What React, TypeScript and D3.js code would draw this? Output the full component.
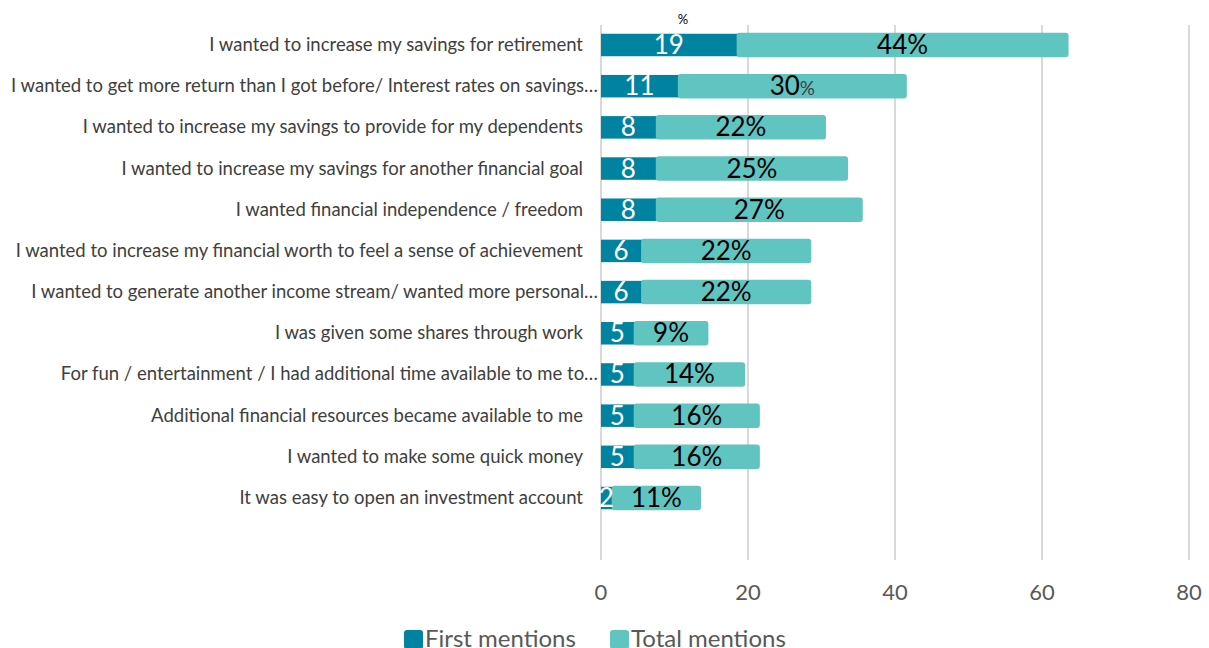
import React from "react";
import * as d3 from "d3";

const categories = [
  "I wanted to increase my savings for retirement",
  "I wanted to get more return than I got before/ Interest rates on savings…",
  "I wanted to increase my savings to provide for my dependents",
  "I wanted to increase my savings for another financial goal",
  "I wanted financial independence / freedom",
  "I wanted to increase my financial worth to feel a sense of achievement",
  "I wanted to generate another income stream/ wanted more personal…",
  "I was given some shares through work",
  "For fun / entertainment / I had additional time available to me to…",
  "Additional financial resources became available to me",
  "I wanted to make some quick money",
  "It was easy to open an investment account",
];
const firstMentions = [19, 11, 8, 8, 8, 6, 6, 5, 5, 5, 5, 2];
const totalMentions = [44, 30, 22, 25, 27, 22, 22, 9, 14, 16, 16, 11];
const xTicks = [0, 20, 40, 60, 80];
const seriesNames = ["First mentions", "Total mentions"];

const W = 1209;
const H = 648;
const DARK = "#0083a0";
const LIGHT = "#60c5c1";
const FONT = "Lato, 'Open Sans', sans-serif";

export default function App() {
  const x = d3.scaleLinear().domain([0, 80]).range([601, 1189]);
  const y = d3.scaleBand<string>().domain(categories).range([24.4, 518.6]).paddingInner(0.42).paddingOuter(0.21);
  const bh = y.bandwidth();
  const gridTop = 25;
  const gridBottom = 560;

  return (
    <svg width={W} height={H} style={{ position: "absolute", left: 0, top: 0, display: "block" }} fontFamily={FONT}>
      <rect width={W} height={H} fill="#fff" />
      {xTicks.map((t) => (
        <line key={t} x1={x(t)} x2={x(t)} y1={gridTop} y2={gridBottom} stroke="#d9d9d9" strokeWidth={2} />
      ))}
      {xTicks.map((t) => (
        <text key={"t" + t} x={x(t)} y={600} textAnchor="middle" fontSize={22} fill="#595959">
          {t}
        </text>
      ))}
      <text x={683} y={24} textAnchor="middle" fontSize={13} fill="#000">%</text>
      {categories.map((c, i) => {
        const y0 = y(c)!;
        const cy = y0 + bh / 2;
        const f = firstMentions[i];
        const t = totalMentions[i];
        const lx0 = x(f) - 4;
        const lx1 = x(f + t) + 4.5;
        const ell = c.endsWith("…");
        return (
          <g key={c}>
            <text x={ell ? 598 : 583} y={cy + 6} textAnchor="end" fontSize={18.5} fill="#404040">
              {c}
            </text>
            <rect x={x(0)} y={y0 + 0.7} width={x(f) - x(0)} height={bh - 1.4} fill={DARK} />
            <rect x={lx0} y={y0 - 0.3} width={lx1 - lx0} height={bh + 0.6} fill={LIGHT} rx={3} ry={3} />
            <text x={(x(0) + lx0) / 2} y={cy + 9} textAnchor="middle" fontSize={26} fill="#fff">
              {f}
            </text>
            {i === 1 ? (
              <text x={(lx0 + lx1) / 2} y={cy + 9} textAnchor="middle" fontSize={26} fill="#000">
                {t}
                <tspan fontSize={19} fill="#404040">%</tspan>
              </text>
            ) : (
              <text x={(lx0 + lx1) / 2} y={cy + 9} textAnchor="middle" fontSize={26} fill="#000">
                {t + "%"}
              </text>
            )}
          </g>
        );
      })}
      {seriesNames.map((s, i) => {
        const lx = i === 0 ? 404 : 610;
        return (
          <g key={s}>
            <rect x={lx} y={630} width={19} height={19} rx={3} fill={i === 0 ? DARK : LIGHT} />
            <text x={lx + 21} y={647} fontSize={24} fill="#595959">{s}</text>
          </g>
        );
      })}
    </svg>
  );
}
